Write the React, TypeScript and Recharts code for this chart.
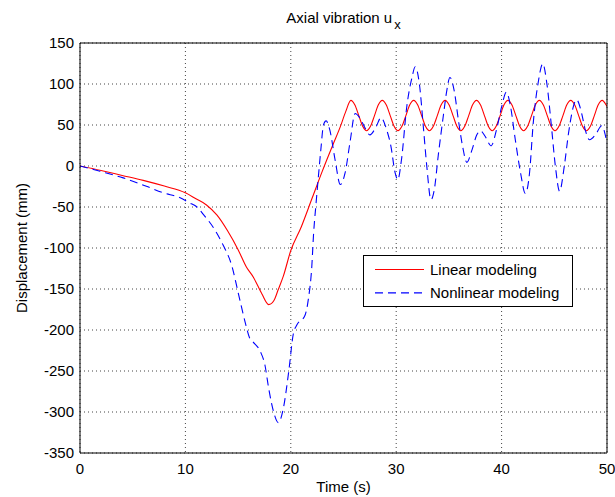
import React from 'react';
import { LineChart, Line, XAxis, YAxis, CartesianGrid, Legend } from 'recharts';

const xTicks = [0, 10, 20, 30, 40, 50];
const yTicks = [-350, -300, -250, -200, -150, -100, -50, 0, 50, 100, 150];

const linearTime = [
  0, 2, 4, 6, 8, 10, 11, 12, 13, 14, 15, 15.8, 16.45, 17.25, 17.9, 18.4, 18.8, 19.3, 20, 21, 22, 23, 24, 24.7, 25.2,
  25.7, 26.07, 26.45, 26.82, 27.19, 27.56, 27.94, 28.31,
  28.68, 29.05, 29.43, 29.8, 30.17, 30.54, 30.92, 31.29,
  31.66, 32.03, 32.41, 32.78, 33.15, 33.52, 33.9, 34.27,
  34.64, 35.01, 35.39, 35.76, 36.13, 36.5, 36.88, 37.25,
  37.62, 37.99, 38.37, 38.74, 39.11, 39.48, 39.86, 40.23,
  40.6, 40.97, 41.35, 41.72, 42.09, 42.46, 42.84, 43.21,
  43.58, 43.95, 44.33, 44.7, 45.07, 45.44, 45.82, 46.19,
  46.56, 46.93, 47.31, 47.68, 48.05, 48.42, 48.8, 49.17,
  49.54, 49.91, 50,
];
const linearDisp = [
  0, -5.5, -11.5, -17.5, -24.5, -32.7, -40, -47.5, -60, -79, -102, -123.5, -135.6, -155.8, -169, -164, -151, -134, -103, -74, -40, -6, 26, 48, 66,
  80, 74.6, 61.5, 48.4, 43, 48.4, 61.5, 74.6,
  80, 74.6, 61.5, 48.4, 43, 48.4, 61.5, 74.6,
  80, 74.6, 61.5, 48.4, 43, 48.4, 61.5, 74.6,
  80, 74.6, 61.5, 48.4, 43, 48.4, 61.5, 74.6,
  80, 74.6, 61.5, 48.4, 43, 48.4, 61.5, 74.6,
  80, 74.6, 61.5, 48.4, 43, 48.4, 61.5, 74.6,
  80, 74.6, 61.5, 48.4, 43, 48.4, 61.5, 74.6,
  80, 74.6, 61.5, 48.4, 43, 48.4, 61.5, 74.6,
  80, 74.6, 72.5,
];

const nonlinearTime = [
  0, 1.9, 4.1, 6.3, 7.9, 9.5, 10.4, 11.1, 11.7, 12.7, 13.6, 14.4,
  15.0, 15.66, 16.1, 16.45, 17.1, 17.55, 17.9, 18.35, 18.82, 19.3, 19.8, 20.25,
  20.57, 21.35, 21.67, 22.0, 22.15, 22.4, 22.62, 22.85, 23.1, 23.35, 23.7, 24.2,
  24.7, 25.15, 25.63, 26.1, 26.58, 27.06, 27.5, 28.1, 28.55, 29.1, 29.5, 29.9,
  30.15, 30.5, 31.0, 31.5, 31.8, 32.2, 32.6, 32.9, 33.3, 33.6, 34.0, 34.5,
  34.8, 35.1, 35.5, 35.9, 36.3, 36.7, 37.2, 37.65, 38.0, 38.45, 39.0, 39.55,
  40.0, 40.45, 40.8, 41.3, 41.8, 42.25, 42.65, 43.0, 43.5, 43.9, 44.3, 44.7,
  45.1, 45.5, 45.95, 46.35, 46.8, 47.1, 47.6, 47.9, 48.35, 48.9, 49.5, 50,
];
const nonlinearDisp = [
  0, -6.5, -14.5, -24.7, -32.7, -38.7, -45, -50, -59, -76, -97, -121.5,
  -154, -190, -210, -215, -226, -243, -271, -299, -313, -295, -251, -204,
  -194, -182, -162, -121, -85, -45, -12.6, 20, 50, 55, 44, 7.6,
  -22.6, -8.5, 30, 64, 58, 46, 38, 48, 59, 44, 24, -8.5,
  -16.6, 7.6, 72, 108, 121, 100, 44, 0, -41, -30, 14, 64,
  92, 108, 92, 56, 24, 4.4, 20, 38, 43, 36, 24.6, 46,
  72, 90, 76, 32, -8.5, -33.5, -8.5, 52, 104, 124.7, 100, 52,
  0, -30.7, 0, 40, 72, 81, 64, 46, 32, 38, 49, 28,
];

const linearData = linearTime.map((t, i) => ({ t, v: linearDisp[i] }));
const nonlinearData = nonlinearTime.map((t, i) => ({ t, v: nonlinearDisp[i] }));

const FONT = '"Liberation Sans", Arial, Helvetica, sans-serif';
const FS = 15;

const seriesStyle: Record<string, { color: string; dash?: string }> = {
  'Linear modeling': { color: '#ff0000' },
  'Nonlinear modeling': { color: '#0000ff', dash: '8 5' },
};

function LegendBox(props: any) {
  const payload = props.payload || [];
  return (
    <svg width={210} height={52} style={{ display: 'block' }}>
      <rect x={0.5} y={0.5} width={209} height={51} fill="#fff" stroke="#000" strokeWidth={1} />
      {payload.map((p: any, i: number) => {
        const cy = 14.5 + i * 23.4;
        const st = seriesStyle[p.value] || { color: p.color };
        return (
          <g key={i}>
            <line x1={12} x2={61} y1={cy} y2={cy} stroke={st.color} strokeWidth={1.1} strokeDasharray={st.dash} />
            <text x={67} y={cy} dy="0.36em" fontSize={FS} fontFamily={FONT} fill="#000">
              {p.value}
            </text>
          </g>
        );
      })}
    </svg>
  );
}

const tickStyle = { fill: '#000', fontSize: FS, fontFamily: FONT };

export default function App() {
  return (
    <div style={{ position: 'absolute', left: 0, top: 0, width: 615, height: 497, background: '#fff' }}>
      <div
        style={{
          position: 'absolute',
          left: 80,
          width: 527,
          top: 10,
          textAlign: 'center',
          fontFamily: FONT,
          fontSize: FS,
          lineHeight: '15px',
          color: '#000',
          whiteSpace: 'nowrap',
        }}
      >
        Axial vibration u
        <span style={{ fontSize: 13, position: 'relative', top: 6, marginLeft: 2 }}>x</span>
      </div>
      <LineChart width={615} height={497} margin={{ top: 43, right: 8, bottom: 14, left: 20 }}>
        <CartesianGrid xAxisId="x" yAxisId="y" stroke="#444" strokeDasharray="1 3" />
        <XAxis
          xAxisId="x"
          type="number"
          dataKey="t"
          domain={[0, 50]}
          ticks={xTicks}
          allowDataOverflow
          height={30}
          tickLine={false}
          tickSize={0}
          tickMargin={10}
          axisLine={{ stroke: '#000' }}
          tick={tickStyle}
          label={{ value: 'Time (s)', position: 'bottom', offset: -2, fill: '#000', fontSize: FS, fontFamily: FONT }}
        />
        <XAxis
          xAxisId="xt"
          orientation="top"
          mirror
          type="number"
          domain={[0, 50]}
          ticks={xTicks}
          allowDataOverflow
          tick={false}
          tickSize={5}
          tickLine={{ stroke: '#000' }}
          axisLine={{ stroke: '#000' }}
        />
        <XAxis
          xAxisId="xb"
          orientation="bottom"
          mirror
          type="number"
          domain={[0, 50]}
          ticks={xTicks}
          allowDataOverflow
          tick={false}
          tickSize={5}
          tickLine={{ stroke: '#000' }}
          axisLine={false}
        />
        <YAxis
          yAxisId="y"
          type="number"
          domain={[-350, 150]}
          ticks={yTicks}
          allowDataOverflow
          width={60}
          tickLine={false}
          tickSize={0}
          tickMargin={6}
          axisLine={{ stroke: '#000' }}
          tick={tickStyle}
          label={{
            value: 'Displacement (mm)',
            angle: -90,
            position: 'insideLeft',
            offset: 2,
            fill: '#000',
            fontSize: FS,
            fontFamily: FONT,
            style: { textAnchor: 'middle' },
          }}
        />
        <YAxis
          yAxisId="yl"
          orientation="left"
          mirror
          type="number"
          domain={[-350, 150]}
          ticks={yTicks}
          allowDataOverflow
          tick={false}
          tickSize={5}
          tickLine={{ stroke: '#000' }}
          axisLine={false}
        />
        <YAxis
          yAxisId="yr"
          orientation="right"
          mirror
          type="number"
          domain={[-350, 150]}
          ticks={yTicks}
          allowDataOverflow
          tick={false}
          tickSize={5}
          tickLine={{ stroke: '#000' }}
          axisLine={{ stroke: '#000' }}
        />
        <Line
          xAxisId="x"
          yAxisId="y"
          data={linearData}
          dataKey="v"
          name="Linear modeling"
          type="monotone"
          stroke="#ff0000"
          strokeWidth={1.1}
          dot={false}
          activeDot={false}
          isAnimationActive={false}
        />
        <Line
          xAxisId="x"
          yAxisId="y"
          data={nonlinearData}
          dataKey="v"
          name="Nonlinear modeling"
          type="monotone"
          stroke="#0000ff"
          strokeWidth={1.1}
          strokeDasharray="8 5"
          dot={false}
          activeDot={false}
          isAnimationActive={false}
        />
        <Legend
          layout="horizontal"
          verticalAlign="middle"
          align="center"
          width={210}
          height={52}
          wrapperStyle={{ position: 'absolute', left: 363, top: 255, width: 210, height: 52 }}
          content={<LegendBox />}
        />
      </LineChart>
    </div>
  );
}
